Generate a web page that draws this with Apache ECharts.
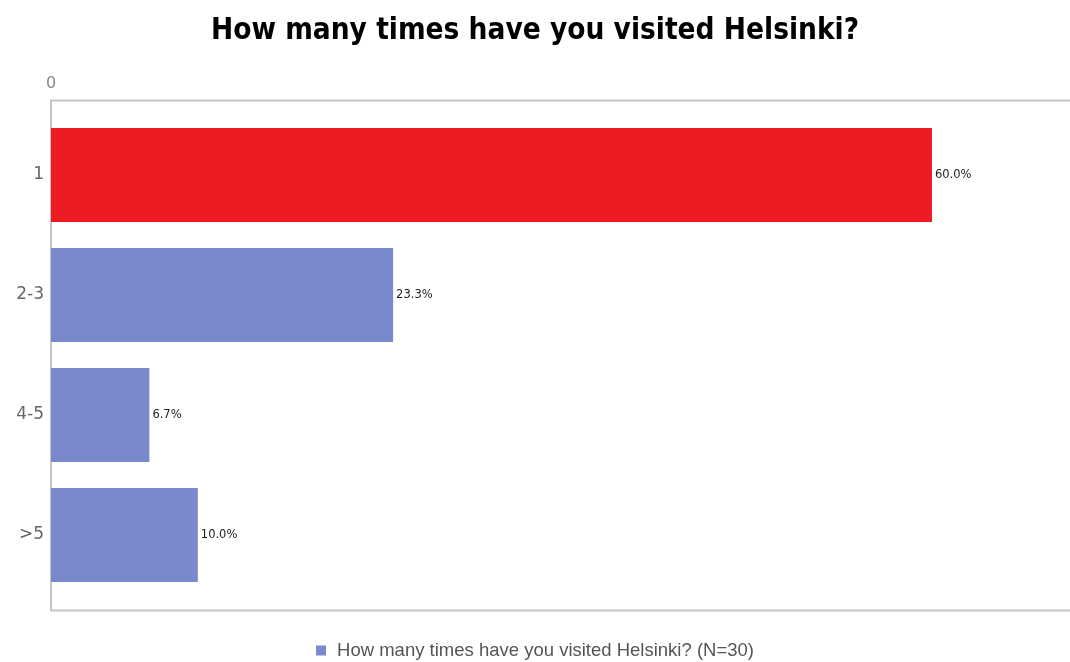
<!DOCTYPE html>
<html>
<head>
<meta charset="utf-8">
<script src="https://cdn.jsdelivr.net/npm/echarts@6/dist/echarts.min.js"></script>
<style>
  html, body { margin: 0; padding: 0; background: #fff; }
  #chart { width: 1070px; height: 662px; }
</style>
</head>
<body>
<div id="chart"></div>
<script>
// Survey answers and shares (%)
const categories = ['1', '2-3', '4-5', '>5'];
const shares = [60.0, 23.3, 6.7, 10.0];
const barColors = ['#ED1C24', '#7A89CC', '#7A89CC', '#7A89CC'];
const seriesName = 'How many times have you visited Helsinki? (N=30)';
const titleText = 'How many times have you visited Helsinki?';

const chart = echarts.init(document.getElementById('chart'));

chart.setOption({
  backgroundColor: '#ffffff',
  animation: false,
  title: {
    text: titleText,
    left: 'center',
    top: 11,
    textStyle: {
      fontFamily: '"DejaVu Sans Condensed", "DejaVu Sans", sans-serif',
      fontWeight: 'bold',
      fontSize: 29.5,
      color: '#000'
    }
  },
  legend: {
    top: 641,
    left: 'center',
    icon: 'rect',
    itemWidth: 10,
    itemHeight: 10,
    padding: 0,
    textStyle: {
      fontFamily: '"Liberation Sans", Arial, sans-serif',
      fontSize: 18.5,
      color: '#555',
      padding: [0, 0, 0, 6]
    },
    data: [{ name: seriesName, itemStyle: { color: '#7A89CC' } }]
  },
  // plot frame
  graphic: [{
    type: 'rect',
    shape: { x: 51, y: 100.5, width: 1030, height: 510 },
    style: { fill: 'none', stroke: '#c4c4c4', lineWidth: 2 },
    silent: true,
    z: 0
  }],
  grid: { left: 51, right: 0, top: 115, bottom: 67 },
  xAxis: {
    type: 'value',
    position: 'top',
    offset: 15,
    min: 0,
    max: 69.4,
    interval: 100,
    axisLine: { show: false },
    axisTick: { show: false },
    splitLine: { show: false },
    axisLabel: {
      showMaxLabel: false,
      margin: 8,
      fontFamily: '"DejaVu Sans", sans-serif',
      fontSize: 16,
      color: '#888'
    }
  },
  yAxis: {
    type: 'category',
    inverse: true,
    data: categories,
    axisLine: { show: false },
    axisTick: { show: false },
    axisLabel: {
      margin: 7,
      fontFamily: '"DejaVu Sans", sans-serif',
      fontSize: 17,
      color: '#666'
    }
  },
  series: [{
    name: seriesName,
    type: 'bar',
    barWidth: 94,
    data: shares.map((v, i) => ({ value: v, itemStyle: { color: barColors[i] } })),
    label: {
      show: true,
      position: 'right',
      distance: 3,
      formatter: p => p.value.toFixed(1) + '%',
      fontFamily: '"DejaVu Sans", sans-serif',
      fontSize: 11.5,
      color: '#222'
    }
  }]
});
</script>
</body>
</html>
